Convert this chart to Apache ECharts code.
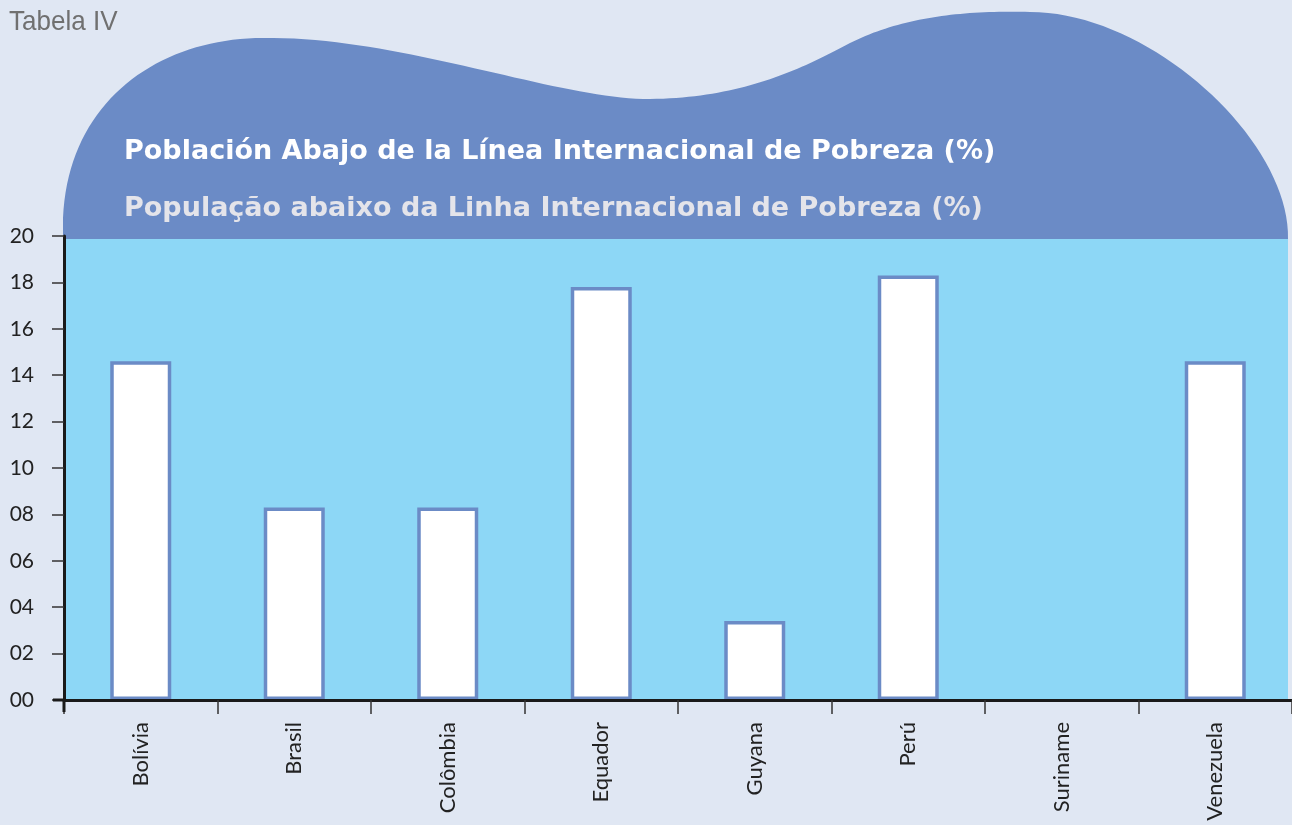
<!DOCTYPE html>
<html>
<head>
<meta charset="utf-8">
<script src="https://cdn.jsdelivr.net/npm/echarts@6/dist/echarts.min.js"></script>
<style>
html,body{margin:0;padding:0;background:#e0e7f3;}
#chart{width:1292px;height:825px;}
</style>
</head>
<body>
<div id="chart"></div>
<script>
const categories = ['Bolívia', 'Brasil', 'Colômbia', 'Equador', 'Guyana', 'Perú', 'Suriname', 'Venezuela'];
const values = [14.6, 8.3, 8.3, 17.8, 3.4, 18.3, null, 14.6];
const yTickLabels = ['00', '02', '04', '06', '08', '10', '12', '14', '16', '18', '20'];
const tableLabel = 'Tabela IV';
const titleEs = 'Población Abajo de la Línea Internacional de Pobreza (%)';
const titlePt = 'População abaixo da Linha Internacional de Pobreza (%)';

// decorative header shape (cubic bezier segments), sampled into a polygon
function blobPoints() {
  const start = [63, 218];
  const segs = [
    [[68, 100], [160, 38], [263, 38]],
    [[400, 36], [560, 100], [650, 99]],
    [[740, 98], [800, 70], [850, 43]],
    [[900, 18], [960, 10], [1030, 12]],
    [[1150, 12], [1290, 140], [1288, 239]]
  ];
  const pts = [[63, 239], start];
  let p0 = start;
  segs.forEach(s => {
    const [c1, c2, p3] = s;
    for (let i = 1; i <= 40; i++) {
      const t = i / 40, u = 1 - t;
      const x = u*u*u*p0[0] + 3*u*u*t*c1[0] + 3*u*t*t*c2[0] + t*t*t*p3[0];
      const y = u*u*u*p0[1] + 3*u*u*t*c1[1] + 3*u*t*t*c2[1] + t*t*t*p3[1];
      pts.push([x, y]);
    }
    p0 = p3;
  });
  return pts;
}

const chart = echarts.init(document.getElementById('chart'), null, {renderer: 'canvas'});

chart.setOption({
  backgroundColor: '#e0e7f3',
  animation: false,
  grid: {left: 64, right: -3, top: 236, bottom: 125, containLabel: false},
  graphic: [
    {type: 'polygon', z: -10, shape: {points: blobPoints()}, style: {fill: '#6b8bc6'}},
    {type: 'rect', z: -10, shape: {x: 63, y: 239, width: 1225, height: 461}, style: {fill: '#8dd7f6'}},
    {type: 'line', z: 10, shape: {x1: 64, y1: 700, x2: 64, y2: 712}, style: {stroke: '#1a1a1a', lineWidth: 3}},
    {type: 'line', z: 10, shape: {x1: 53, y1: 700, x2: 64, y2: 700}, style: {stroke: '#1a1a1a', lineWidth: 3}},
    {type: 'text', x: 9, y: 8, scaleX: 0.93, style: {text: tableLabel, fill: '#707070', font: '28px "Liberation Sans", sans-serif'}},
    {type: 'text', left: 124, top: 138, style: {text: titleEs, fill: '#ffffff', font: 'bold 27px "DejaVu Sans", sans-serif'}},
    {type: 'text', left: 124, top: 195, style: {text: titlePt, fill: '#e4e4ea', font: 'bold 27px "DejaVu Sans", sans-serif'}}
  ],
  xAxis: {
    type: 'category',
    data: categories,
    z: 5,
    axisLine: {show: true, lineStyle: {color: '#1a1a1a', width: 3}},
    axisTick: {show: true, length: 14, lineStyle: {color: '#333', width: 1.5}},
    axisLabel: {rotate: 90, margin: 22, color: '#222', fontSize: 22, fontFamily: 'Lato, "Noto Sans", sans-serif'},
    splitLine: {show: false}
  },
  yAxis: {
    type: 'value',
    min: 0, max: 20, interval: 2,
    z: 5,
    axisLine: {show: true, lineStyle: {color: '#1a1a1a', width: 3}},
    axisTick: {show: true, length: 12, lineStyle: {color: '#333', width: 1.5}},
    axisLabel: {
      margin: 30, color: '#222', fontSize: 21, fontFamily: 'Lato, "Noto Sans", sans-serif',
      formatter: (v) => yTickLabels[Math.round(v / 2)]
    },
    splitLine: {show: false}
  },
  series: [{
    type: 'bar',
    data: values,
    barWidth: 61,
    itemStyle: {color: '#ffffff', borderColor: '#6b8bc6', borderWidth: 3.5}
  }]
});
</script>
</body>
</html>
